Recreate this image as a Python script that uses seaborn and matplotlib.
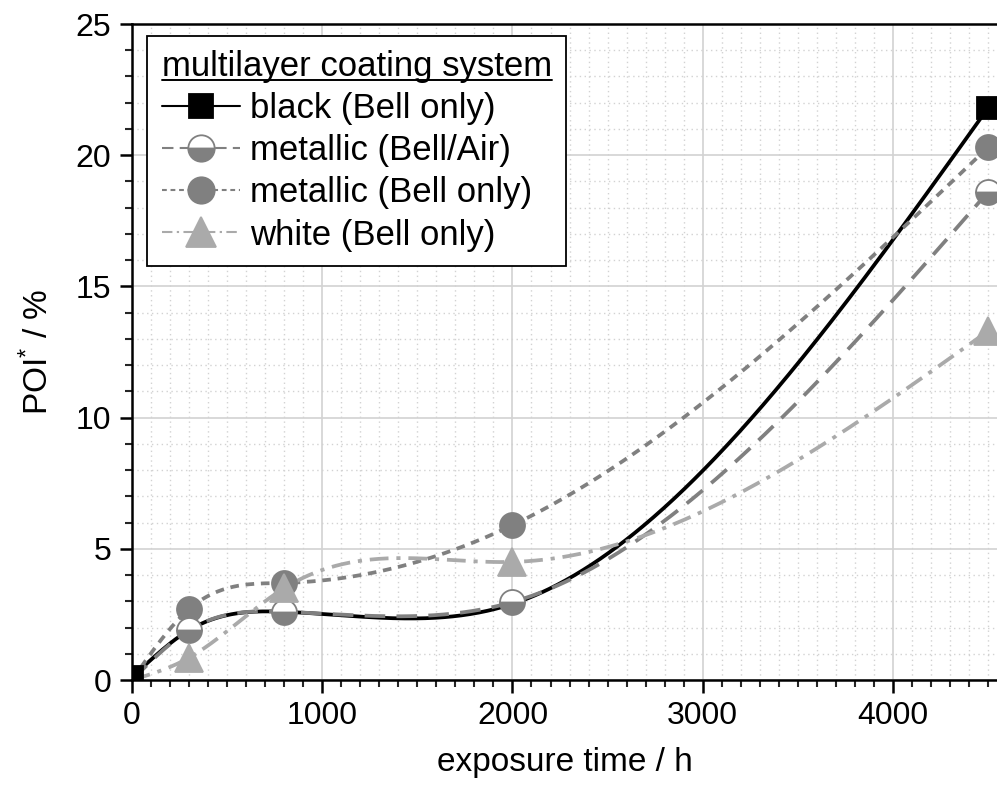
import numpy as np
import pandas as pd
import seaborn as sns
import matplotlib
matplotlib.use("Agg")
import matplotlib.pyplot as plt
from matplotlib.lines import Line2D
from matplotlib.ticker import MultipleLocator

# exposure time (h) and POI* (%)
hours = [0, 300, 800, 2000, 4500]
black_bell = [0.1, 1.9, 2.6, 2.9, 21.8]
metallic_bell_air = [0.0, 1.9, 2.6, 2.97, 18.6]
metallic_bell = [0.0, 2.7, 3.7, 5.9, 20.3]
white_bell = [0.0, 0.85, 3.5, 4.5, 13.3]

names = [
    "black (Bell only)",
    "metallic (Bell/Air)",
    "metallic (Bell only)",
    "white (Bell only)",
]


def natural_spline(x, y, num=500):
    # natural cubic spline through the measured points (Origin "spline" connect)
    x = np.asarray(x, float)
    y = np.asarray(y, float)
    n = len(x)
    h = np.diff(x)
    A = np.zeros((n, n))
    rhs = np.zeros(n)
    A[0, 0] = A[-1, -1] = 1
    for i in range(1, n - 1):
        A[i, i - 1] = h[i - 1]
        A[i, i] = 2 * (h[i - 1] + h[i])
        A[i, i + 1] = h[i]
        rhs[i] = 3 * ((y[i + 1] - y[i]) / h[i] - (y[i] - y[i - 1]) / h[i - 1])
    c = np.linalg.solve(A, rhs)
    b = (y[1:] - y[:-1]) / h - h * (2 * c[:-1] + c[1:]) / 3
    d = (c[1:] - c[:-1]) / (3 * h)
    xs = np.linspace(x[0], x[-1], num)
    idx = np.clip(np.searchsorted(x, xs, side="right") - 1, 0, n - 2)
    dx = xs - x[idx]
    ys = y[idx] + b[idx] * dx + c[idx] * dx ** 2 + d[idx] * dx ** 3
    return xs, ys


sns.set_theme(style="ticks")
plt.rcParams["font.family"] = ["Liberation Sans", "DejaVu Sans"]
plt.rcParams["mathtext.fontset"] = "custom"
plt.rcParams["mathtext.rm"] = "Liberation Sans"
plt.rcParams["mathtext.it"] = "Liberation Sans"

grey = "#808080"
light = "#aaaaaa"
styles = {
    names[0]: dict(color="black", ls="-", marker="s", ms=16, mfc="black", mec="black"),
    names[1]: dict(color=grey, ls=(0, (5.5, 3.0)), marker="o", ms=18, mfc=grey, mec=grey,
                   fillstyle="bottom", mfcalt="white"),
    names[2]: dict(color=grey, ls=(0, (2.3, 1.8)), marker="o", ms=18, mfc=grey, mec=grey),
    names[3]: dict(color=light, ls=(0, (5.0, 2.1, 1.1, 2.1)), marker="^", ms=20,
                   mfc=light, mec=light),
}
values = dict(zip(names, [black_bell, metallic_bell_air, metallic_bell, white_bell]))

fig = plt.figure(figsize=(9.97, 7.91), dpi=100)
ax = fig.add_axes([132 / 997, 1 - 680 / 791, 1 - 132 / 997, (680 - 24) / 791])

# smooth connecting curves
for name in names:
    st = styles[name]
    xs, ys = natural_spline(hours, values[name])
    curve = pd.DataFrame({"time": xs, "poi": ys})
    sns.lineplot(data=curve, x="time", y="poi", ax=ax, color=st["color"],
                 linestyle=st["ls"], linewidth=2.7, sort=False, estimator=None,
                 zorder=3)

# markers: black squares only show at the ends, the others skip t=0
for name in [names[0], names[2], names[1], names[3]]:
    st = styles[name]
    every = [0, len(hours) - 1] if name == names[0] else slice(1, None)
    kw = {}
    if "fillstyle" in st:
        kw = dict(fillstyle=st["fillstyle"], markerfacecoloralt=st["mfcalt"])
    ax.plot(hours, values[name], linestyle="none", marker=st["marker"],
            markersize=st["ms"], markerfacecolor=st["mfc"],
            markeredgecolor=st["mec"], markeredgewidth=1.3, markevery=every,
            zorder=4, **kw)

ax.set_xlim(0, 4547)
ax.set_ylim(0, 25)
ax.xaxis.set_major_locator(MultipleLocator(1000))
ax.xaxis.set_minor_locator(MultipleLocator(100))
ax.yaxis.set_major_locator(MultipleLocator(5))
ax.yaxis.set_minor_locator(MultipleLocator(1))
ax.grid(which="major", color="#d2d2d2", linewidth=1.2, linestyle="-", zorder=0)
ax.grid(which="minor", color="#d2d2d2", linewidth=1.0, linestyle=(0, (1, 2.5)), zorder=0)
ax.set_axisbelow(True)

ax.tick_params(which="major", direction="out", length=9, width=1.8, labelsize=23,
               pad=6, colors="black", top=False, right=False)
ax.tick_params(which="minor", direction="out", length=5, width=1.5,
               top=False, right=False)
ax.spines["right"].set_visible(False)
for s in ["left", "bottom", "top"]:
    ax.spines[s].set_linewidth(1.8)
    ax.spines[s].set_color("black")

ax.set_xlabel("exposure time / h", fontsize=24, labelpad=12, color="black")
ax.set_ylabel(r"POI$^{*}$ / %", fontsize=24, labelpad=15, color="black")

handles = []
for name in names:
    st = styles[name]
    kw = {}
    if "fillstyle" in st:
        kw = dict(fillstyle=st["fillstyle"], markerfacecoloralt=st["mfcalt"])
    handles.append(Line2D([], [], color=st["color"], linestyle=st["ls"], linewidth=1.5,
                          marker=st["marker"], markersize=st["ms"] + 1,
                          markerfacecolor=st["mfc"], markeredgecolor=st["mec"],
                          markeredgewidth=1.3, **kw))

leg = ax.legend(handles, names, title="multilayer coating system", loc="upper left",
                bbox_to_anchor=(0.0175, 0.982), borderaxespad=0, fontsize=25,
                title_fontsize=25, handlelength=2.25, handletextpad=0.3,
                borderpad=0.42, labelspacing=0.26, numpoints=1, fancybox=False,
                framealpha=1, edgecolor="black", alignment="left")
leg.get_frame().set_linewidth(1.3)
leg.set_zorder(10)
for t in leg.get_texts():
    t.set_color("black")
leg.get_title().set_color("black")

# underline the legend title
fig.canvas.draw()
bb = leg.get_title().get_window_extent().transformed(fig.transFigure.inverted())
fig.add_artist(Line2D([bb.x0, bb.x1], [bb.y0 + 0.004, bb.y0 + 0.004],
                      color="black", linewidth=1.4, transform=fig.transFigure,
                      zorder=11))

fig.savefig("out.png", dpi=100)
